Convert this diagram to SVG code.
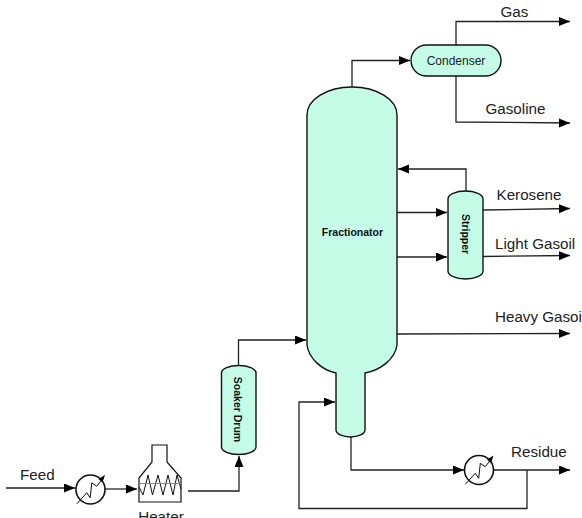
<svg xmlns="http://www.w3.org/2000/svg" width="582" height="518" viewBox="0 0 582 518">
<style>
text{font-family:"Liberation Sans",Arial,sans-serif;fill:#111}
.l{font-size:15.2px;fill:#222}
.b{font-size:10.500px;font-weight:bold}
.v{fill:#c4fce8;stroke:#111;stroke-width:1.4}
.c{fill:none;stroke:#222;stroke-width:1.3}
.e{fill:#fff;stroke:#111;stroke-width:1.6}
.t{fill:none;stroke:#111;stroke-width:1}
</style>
<defs>
<marker id="a" markerUnits="userSpaceOnUse" markerWidth="12" markerHeight="10" refX="11" refY="4.500" orient="auto"><path d="M0 0L11 4.500L0 9Z" fill="#000"/></marker>
</defs>
<g id="connectors">
<path class="c" marker-end="url(#a)" d="M6 488H75"/>
<path class="c" marker-end="url(#a)" d="M105 489H137"/>
<path class="c" marker-end="url(#a)" d="M188 491H239V456"/>
<path class="c" marker-end="url(#a)" d="M238.500 366V340H306"/>
<path class="c" marker-end="url(#a)" d="M352 87V60.500H410"/>
<path class="c" marker-end="url(#a)" d="M456 45V21.500H570"/>
<path class="c" marker-end="url(#a)" d="M456 76V122L570 123"/>
<path class="c" marker-end="url(#a)" d="M466 191V169H398"/>
<path class="c" marker-end="url(#a)" d="M397 212.500H447"/>
<path class="c" marker-end="url(#a)" d="M397 257H447"/>
<path class="c" marker-end="url(#a)" d="M483 210L570 208.500"/>
<path class="c" marker-end="url(#a)" d="M483 256.500L570 255.500"/>
<path class="c" marker-end="url(#a)" d="M397 334L570 333.500"/>
<path class="c" marker-end="url(#a)" d="M351 437V470H464"/>
<path class="c" marker-end="url(#a)" d="M494 470H570"/>
<path class="c" marker-end="url(#a)" d="M527 470V508.500H299V402H335"/>
</g>
<g id="fractionator">
<path class="v" d="M307 115A45 28 0 0 1 397 115V345C395 359 381 370 365 373V430A14.500 7 0 0 1 336 430V373C322 370 309 359 307 345Z"/>
<text class="b" x="352.500" y="236" text-anchor="middle">Fractionator</text>
</g>
<g id="condenser">
<rect class="v" x="411" y="45" width="90" height="31" rx="15.500"/>
<text x="456" y="65" text-anchor="middle" style="font-size:12px;fill:#222">Condenser</text>
</g>
<g id="stripper">
<path class="v" d="M448 199A17.500 8 0 0 1 483 199V271A17.500 8 0 0 1 448 271Z"/>
<text class="b" transform="translate(461.500,234) rotate(90)" text-anchor="middle">Stripper</text>
</g>
<g id="soaker-drum">
<path class="v" d="M221.500 373A17.250 7.500 0 0 1 256 373V447A17.250 7.500 0 0 1 221.500 447Z"/>
<text class="b" transform="translate(234,409.500) rotate(90)" text-anchor="middle">Soaker Drum</text>
</g>
<g id="feed-exchanger">
<circle class="e" cx="90.500" cy="489.500" r="14.500"/>
<path class="t" d="M76.800 503.800L86.800 492.800L90.200 497.800L91.800 482.800L96.800 486.200L103 478"/>
<path d="M105 475L102.500 482.500L98.500 479Z" fill="#000"/>
</g>
<g id="heater">
<path d="M152 445H167V462L181 478V502H139V478L152 462Z" fill="#fff" stroke="#111" stroke-width="1.2"/>
<path class="t" d="M139 487L143 495L148 475L152.500 495L158 475L163 495L168 475L173 495L177 475L181 489"/>
<path d="M139 483.500H181" stroke="#e8604c" stroke-width="1" fill="none"/>
<text class="l" x="161" y="522" text-anchor="middle">Heater</text>
</g>
<g id="residue-exchanger">
<circle class="e" cx="479" cy="470" r="14.500"/>
<path class="t" d="M465.300 484.300L475.300 473.300L478.700 478.300L480.300 463.300L485.300 466.700L491.500 458.500"/>
<path d="M493.500 455.500L491 463L487 459.500Z" fill="#000"/>
</g>
<g id="labels">
<text class="l" x="20" y="480">Feed</text>
<text class="l" x="500.500" y="17">Gas</text>
<text class="l" x="485.500" y="114">Gasoline</text>
<text class="l" x="496.500" y="200">Kerosene</text>
<text class="l" x="495" y="249">Light Gasoil</text>
<text class="l" x="495" y="322">Heavy Gasoil</text>
<text class="l" x="511" y="457">Residue</text>
</g>
</svg>
